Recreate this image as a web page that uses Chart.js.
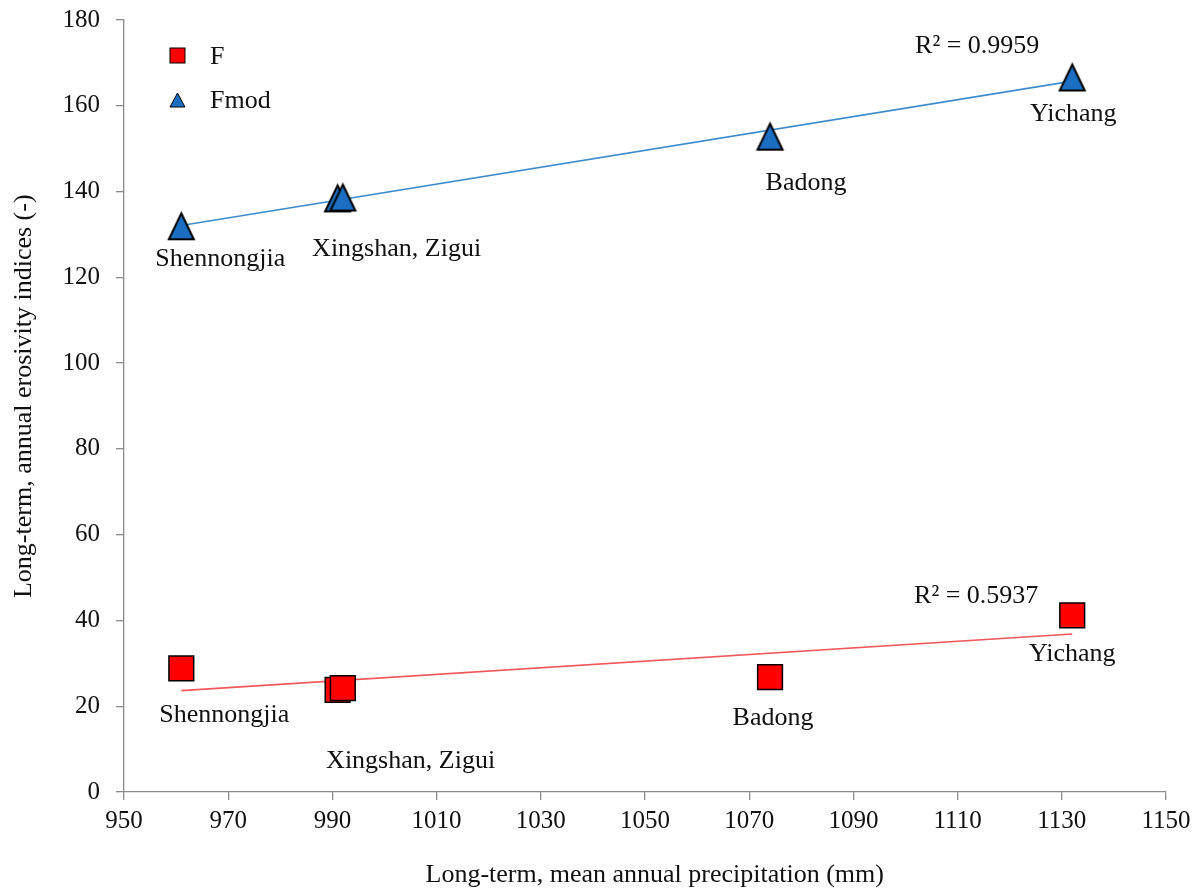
<!DOCTYPE html>
<html>
<head>
<meta charset="utf-8">
<script src="https://cdn.jsdelivr.net/npm/chart.js@4/dist/chart.umd.min.js"></script>
<style>
  html, body { margin: 0; padding: 0; background: #ffffff; }
  #graph { display: block; }
</style>
</head>
<body>
<canvas id="graph" width="1198" height="890"></canvas>
<script>
// stations, in order of precipitation
var stations = ['Shennongjia', 'Xingshan', 'Zigui', 'Badong', 'Yichang'];
// long-term mean annual precipitation (mm)
var precipitation = [961, 991, 992, 1074, 1132];
// Fournier index (F) and modified Fournier index (Fmod)
var fValues = [28.8, 23.8, 24.2, 26.8, 41.2];
var fmodValues = [131.9, 138.4, 138.6, 152.8, 166.6];
// axis ticks
var xTicks = [950, 970, 990, 1010, 1030, 1050, 1070, 1090, 1110, 1130, 1150];
var yTicks = [0, 20, 40, 60, 80, 100, 120, 140, 160, 180];
// station names written next to the points (index of the point they sit under)
var siteLabels = ['Shennongjia', 'Xingshan, Zigui', 'Badong', 'Yichang'];
var siteAnchors = [0, 1, 3, 4];
// coefficient of determination of each trend line
var r2Text = { F: 'R\u00b2 = 0.5937', Fmod: 'R\u00b2 = 0.9959' };

var SERIF = "'Liberation Serif', 'Times New Roman', serif";
var AXIS_GREY = '#8a8a8a';
var TEXT = '#111111';
var RED = '#ff0000';
var BLUE = '#1b6ec2';

// pixel offsets of the texts from their anchor point (dx, baseline dy)
var labelOffsets = {
  F:    [[43, 54], [73, 78], [3, 48], [0, 46]],
  Fmod: [[39, 40], [59, 58], [36, 53], [1, 44]]
};
var r2Offsets = { F: [-96, -12], Fmod: [-95, -24] };

// least squares line over the whole series
function linearFit(xs, ys) {
  var n = xs.length, mx = 0, my = 0, sxy = 0, sxx = 0;
  for (var i = 0; i < n; i++) { mx += xs[i]; my += ys[i]; }
  mx /= n; my /= n;
  for (var j = 0; j < n; j++) {
    sxy += (xs[j] - mx) * (ys[j] - my);
    sxx += (xs[j] - mx) * (xs[j] - mx);
  }
  var slope = sxy / sxx;
  return { slope: slope, intercept: my - slope * mx };
}
function trendPoints(xs, ys) {
  var fit = linearFit(xs, ys);
  var lo = Math.min.apply(null, xs), hi = Math.max.apply(null, xs);
  return [
    { x: lo, y: fit.intercept + fit.slope * lo },
    { x: hi, y: fit.intercept + fit.slope * hi }
  ];
}
function toPoints(xs, ys) {
  return xs.map(function(x, i) { return { x: x, y: ys[i] }; });
}

// triangle marker, centred on its bounding box
function triangleMarker(w, h, lw, fill) {
  var pad = Math.ceil(lw * 1.5);
  var c = document.createElement('canvas');
  c.width = w + pad * 2;
  c.height = h + pad * 2;
  var g = c.getContext('2d');
  g.beginPath();
  g.moveTo(c.width / 2, pad);
  g.lineTo(c.width - pad, pad + h);
  g.lineTo(pad, pad + h);
  g.closePath();
  g.fillStyle = fill;
  g.fill();
  g.lineWidth = lw;
  g.lineJoin = 'miter';
  g.strokeStyle = '#000000';
  g.stroke();
  return c;
}
var triBig = triangleMarker(25, 26, 2, BLUE);
var triSmall = triangleMarker(15, 14, 1, BLUE);

var annotate = {
  id: 'annotate',
  afterDatasetsDraw: function(chart) {
    var ctx = chart.ctx, xs = chart.scales.x, ys = chart.scales.y;
    var series = { F: fValues, Fmod: fmodValues };
    ctx.save();
    ctx.font = '26px ' + SERIF;
    ctx.fillStyle = TEXT;
    ctx.textAlign = 'center';
    ctx.textBaseline = 'alphabetic';
    Object.keys(series).forEach(function(key) {
      var vals = series[key];
      siteLabels.forEach(function(txt, k) {
        var i = siteAnchors[k];
        var px = xs.getPixelForValue(precipitation[i]);
        var py = ys.getPixelForValue(vals[i]);
        var off = labelOffsets[key][k];
        ctx.fillText(txt, px + off[0], py + off[1]);
      });
      var last = precipitation.length - 1;
      var rx = xs.getPixelForValue(precipitation[last]);
      var ry = ys.getPixelForValue(vals[last]);
      ctx.fillText(r2Text[key], rx + r2Offsets[key][0], ry + r2Offsets[key][1]);
    });

    // legend in the upper left corner of the plot
    var area = chart.chartArea;
    var lx = area.left + 53.5, ly = area.top + 35.5;
    ctx.fillStyle = RED;
    ctx.fillRect(lx - 7.5, ly - 7.5, 15, 15);
    ctx.lineWidth = 1;
    ctx.strokeStyle = '#000000';
    ctx.strokeRect(lx - 7.5, ly - 7.5, 15, 15);
    ctx.drawImage(triSmall, lx - triSmall.width / 2, ly + 44.5 - triSmall.height / 2);
    ctx.fillStyle = TEXT;
    ctx.textAlign = 'left';
    ctx.fillText('F', area.left + 86, ly + 8);
    ctx.fillText('Fmod', area.left + 86, ly + 44.5 + 8);
    ctx.restore();
  }
};

function axisOptions(ticks, titleText, extra) {
  var o = {
    type: 'linear',
    min: ticks[0],
    max: ticks[ticks.length - 1],
    ticks: {
      stepSize: ticks[1] - ticks[0],
      color: TEXT,
      font: { family: SERIF, size: 25 },
      callback: function(v) { return String(v); }
    },
    grid: { drawOnChartArea: false, drawTicks: true, tickLength: 8, color: AXIS_GREY, lineWidth: 1.3 },
    border: { display: true, color: AXIS_GREY, width: 1.3 },
    title: { display: true, text: titleText, color: TEXT, font: { family: SERIF, size: 26, lineHeight: 1.15 } }
  };
  for (var k in extra) {
    if (typeof extra[k] === 'object' && o[k]) Object.assign(o[k], extra[k]);
    else o[k] = extra[k];
  }
  return o;
}

var chart = new Chart(document.getElementById('graph'), {
  type: 'scatter',
  data: {
    datasets: [
      {
        label: 'F',
        data: toPoints(precipitation, fValues),
        pointStyle: 'rect',
        pointRadius: 17.5,
        backgroundColor: RED,
        borderColor: '#000000',
        borderWidth: 1.5,
        order: 1
      },
      {
        label: 'Fmod',
        data: toPoints(precipitation, fmodValues),
        pointStyle: triBig,
        pointRadius: 13,
        backgroundColor: BLUE,
        borderColor: '#000000',
        order: 1
      },
      {
        label: 'F trend',
        data: trendPoints(precipitation, fValues),
        showLine: true,
        pointRadius: 0,
        borderColor: '#f2575a',
        borderWidth: 1.6,
        order: 2
      },
      {
        label: 'Fmod trend',
        data: trendPoints(precipitation, fmodValues),
        showLine: true,
        pointRadius: 0,
        borderColor: '#3f8ccd',
        borderWidth: 1.6,
        order: 2
      }
    ]
  },
  options: {
    responsive: false,
    animation: false,
    events: [],
    layout: { padding: { left: 0, top: 20, right: 32, bottom: 0 } },
    plugins: {
      legend: { display: false },
      tooltip: { enabled: false }
    },
    scales: {
      x: axisOptions(xTicks, '   Long-term, mean annual precipitation (mm)', {
        afterFit: function(s) { s.height = 98; s.paddingLeft = 0; s.paddingRight = 0; },
        ticks: { padding: 6 },
        title: { padding: 0 }
      }),
      y: axisOptions(yTicks, '   Long-term, annual erosivity indices (-)', {
        afterFit: function(s) { s.width = 124; s.paddingTop = 0; s.paddingBottom = 0; },
        ticks: { padding: 16 },
        title: { padding: { top: 9, bottom: 0 } }
      })
    }
  },
  plugins: [annotate]
});
</script>
</body>
</html>
